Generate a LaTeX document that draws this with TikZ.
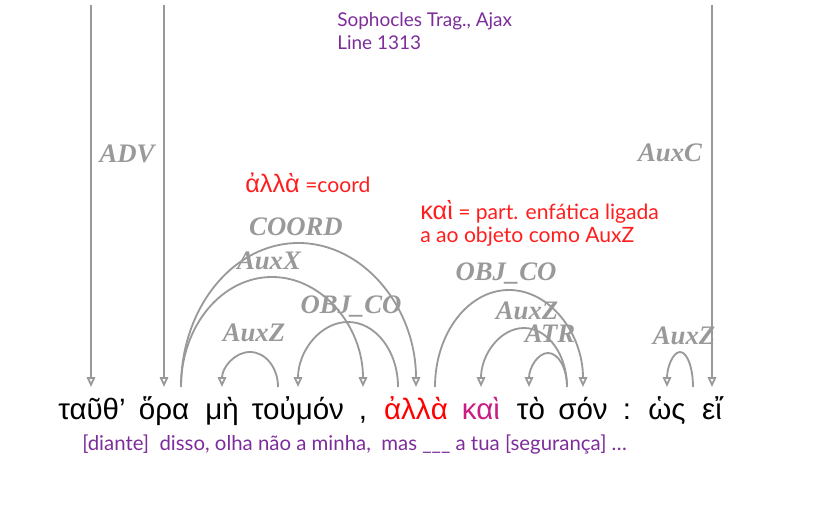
\documentclass[tikz,border=0pt]{standalone}
\usepackage{fontspec}
\setmainfont{Lato}
\newfontfamily\grfont{Liberation Sans}
\newfontfamily\relfont{Liberation Serif}
\newcommand\notegrfont{\grfont\fontsize{18}{21}\selectfont}
\usetikzlibrary{calc,arrows.meta}
\definecolor{relgray}{RGB}{153,153,153}
\definecolor{notered}{RGB}{255,30,30}
\definecolor{notepurple}{RGB}{125,45,155}
\definecolor{kaimagenta}{RGB}{200,30,130}

\begin{document}
\begin{tikzpicture}[
  x=0.025cm,y=0.025cm,
  >={Triangle[open,length=7pt,width=6pt]},
  word/.style={anchor=base, inner sep=0pt, font=\grfont\fontsize{21}{24}\selectfont},
  dep/.style={->, line width=1.3pt, draw=relgray},
  rel/.style={anchor=base, inner sep=0pt, text=relgray, font=\relfont\bfseries\itshape\fontsize{19}{22}\selectfont},
  note/.style={anchor=base west, inner sep=0pt, text=notered, font=\fontsize{15}{18}\selectfont},
  gloss/.style={anchor=base west, inner sep=0pt, text=notepurple, font=\fontsize{14.5}{17}\selectfont}
]
\useasboundingbox (0,0) rectangle (817,514);

% Words of the line
\node[word] (ta) at (92,94) {ταῦθ’};
\node[word] (hora) at (164,94) {ὅρα};
\node[word] (me) at (222,94) {μὴ};
\node[word] (toumon) at (298,94) {τοὐμόν};
\node[word] (comma) at (363,94) {,};
\node[word, text=red] (alla) at (416,94) {ἀλλὰ};
\node[word, text=kaimagenta] (kai) at (481,94) {καὶ};
\node[word] (to) at (531,94) {τὸ};
\node[word] (son) at (583,94) {σόν};
\node[word] (colon) at (627,94) {:};
\node[word] (hos) at (667,94) {ὡς};
\node[word] (ei) at (712,94) {εἴ};

% Arrow feet above the words
\coordinate (fta) at (91,127);
\coordinate (fhora) at ($(hora.base)+(0,33)$);
\coordinate (fhoraR) at ($(hora.base)+(17,33)$);
\coordinate (ftoumonL) at ($(toumon.base)+(-20,33)$);
\coordinate (fallaL) at ($(alla.base)+(-18,33)$);
\coordinate (fallaR) at ($(alla.base)+(19,33)$);
\coordinate (fsonL) at ($(son.base)+(-16,33)$);
\coordinate (feiL) at ($(ei.base)+(-19,33)$);
\coordinate (fei) at ($(ei.base)+(0,33)$);

% Links from the root
\coordinate (rootA) at (91,509);
\coordinate (rootB) at (164,509);
\coordinate (rootC) at (712,509);
\draw[dep] (rootA) -- (fta);
\draw[dep] (rootB) -- (fhora);
\draw[dep] (rootC) -- (fei);

% Dependency arcs
\draw[dep] (fhoraR) arc[start angle=180,end angle=0,x radius=117.5,y radius=144];
\draw[dep] (fhoraR) arc[start angle=180,end angle=0,x radius=91,y radius=110];
\draw[dep] (ftoumonL) arc[start angle=0,end angle=180,x radius=28,y radius=35];
\draw[dep] (fallaL) arc[start angle=0,end angle=180,x radius=50,y radius=65];
\draw[dep] (fallaR) arc[start angle=180,end angle=0,x radius=74,y radius=97];
\draw[dep] (fsonL) arc[start angle=0,end angle=180,x radius=43,y radius=59];
\draw[dep] (fsonL) arc[start angle=0,end angle=180,x radius=19,y radius=34];
\draw[dep] (feiL) arc[start angle=0,end angle=180,x radius=13,y radius=35];

% Relation labels
\node[rel] (lADV) at (127,351) {ADV};
\node[rel] (lAuxC) at (670,352) {AuxC};
\node[rel] (lCOORD) at (296,278) {COORD};
\node[rel] (lAuxX) at (269,244) {AuxX};
\node[rel] (lOBJa) at (351,200) {OBJ\_CO};
\node[rel] (lAuxZa) at (254,172) {AuxZ};
\node[rel] (lOBJb) at (506,233) {OBJ\_CO};
\node[rel] (lAuxZb) at (527,194) {AuxZ};
\node[rel] (lATR) at (550,171) {ATR};
\node[rel] (lAuxZc) at (684,169) {AuxZ};

% Notes
\node[gloss, font=\fontsize{13.5}{16}\selectfont] (src) at (337,487) {Sophocles Trag., Ajax};
\node[gloss, font=\fontsize{13.5}{16}\selectfont] (line) at (337,464) {Line 1313};
\node[note] (nalla) at (245,321) {{\notegrfont ἀλλὰ} =coord};
\node[note] (nkai) at (420,294) {{\notegrfont καὶ} = part. enfática ligada};
\node[note] (nkai2) at (420,271) {a ao objeto como AuxZ};
\node[gloss] (trans) at (82,63) {[diante]\ \ disso, olha não a minha,\ \ mas \_\_\_ a tua [segurança] …};

\end{tikzpicture}
\end{document}
